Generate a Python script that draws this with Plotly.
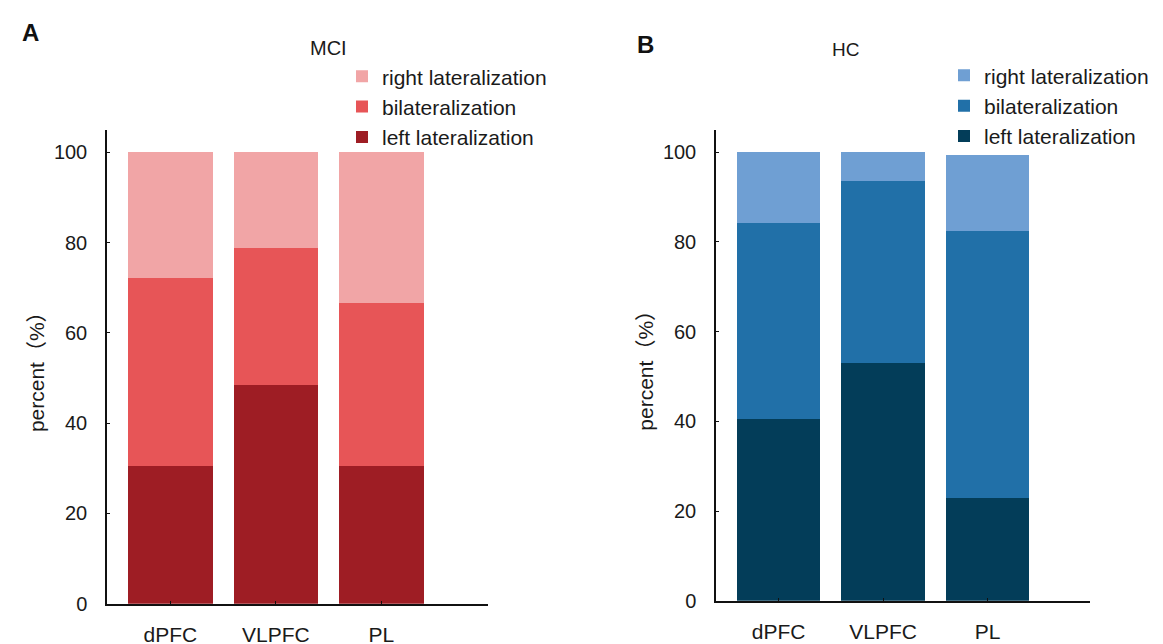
import plotly.graph_objects as go

regions = ["dPFC", "VLPFC", "PL"]
series_names = ["left lateralization", "bilateralization", "right lateralization"]

# MCI (percent of each category)
mci_left = [30.5, 48.4, 30.5]
mci_bilateral = [41.6, 30.5, 36.2]
mci_right = [27.9, 21.1, 33.3]

# HC
hc_left = [40.5, 53.1, 23.0]
hc_bilateral = [43.7, 40.5, 59.4]
hc_right = [15.8, 6.4, 17.1]

mci_colors = ["#9E1D24", "#E75557", "#F1A5A6"]
hc_colors = ["#033D59", "#2170A8", "#6F9FD3"]

y_ticks = [0, 20, 40, 60, 80, 100]

FONT = "Liberation Sans, Arial, Noto Sans CJK SC, sans-serif"
W, H = 1163, 644

fig = go.Figure()

for name, vals, col in zip(series_names, [mci_left, mci_bilateral, mci_right], mci_colors):
    fig.add_trace(go.Bar(x=regions, y=vals, name=name, marker=dict(color=col, line=dict(width=0)),
                         xaxis="x", yaxis="y", legend="legend"))
for name, vals, col in zip(series_names, [hc_left, hc_bilateral, hc_right], hc_colors):
    fig.add_trace(go.Bar(x=regions, y=vals, name=name, marker=dict(color=col, line=dict(width=0)),
                         xaxis="x2", yaxis="y2", legend="legend2"))

def px_x(p):
    return p / W

def px_y(p):
    return 1 - p / H

axis_common = dict(
    showline=True, linecolor="#111", linewidth=1.5, showgrid=False, zeroline=False,
    ticks="inside", ticklen=3, tickcolor="#111", tickwidth=1.2,
)
yfont = dict(family=FONT, size=20, color="#1a1a1a")
xfont = dict(family=FONT, size=21, color="#1a1a1a")

legend_common = dict(
    xanchor="left", yanchor="top", traceorder="reversed",
    font=dict(family=FONT, size=21, color="#1a1a1a"),
    itemwidth=30, bgcolor="rgba(0,0,0,0)", tracegroupgap=0,
)

fig.update_layout(
    width=W, height=H,
    margin=dict(l=0, r=0, t=0, b=0),
    paper_bgcolor="white", plot_bgcolor="white",
    barmode="stack", bargap=0.2,
    font=dict(family=FONT, color="#1a1a1a"),
    xaxis=dict(domain=[px_x(99), px_x(480)], anchor="y", range=[-0.60, 3.01],
               ticklabelstandoff=11, tickfont=xfont, **axis_common),
    yaxis=dict(domain=[px_y(606), px_y(124)], anchor="x", range=[0, 105],
               tickvals=y_ticks, ticklabelstandoff=14, tickfont=yfont,
               title=dict(text="percent（%）", font=dict(family=FONT, size=21), standoff=4),
               **axis_common),
    xaxis2=dict(domain=[px_x(708), px_x(1082)], anchor="y2", range=[-0.60, 2.98],
                ticklabelstandoff=11, tickfont=xfont, **axis_common),
    yaxis2=dict(domain=[px_y(603), px_y(124)], anchor="x2", range=[0, 105],
                tickvals=y_ticks, ticklabelstandoff=14, tickfont=yfont,
                title=dict(text="percent（%）", font=dict(family=FONT, size=21), standoff=4),
                **axis_common),
    legend=dict(x=px_x(334), y=px_y(49), **legend_common),
    legend2=dict(x=px_x(936), y=px_y(48), **legend_common),
    showlegend=True,
    annotations=[
        dict(text="<b>A</b>", x=px_x(12), y=px_y(25), xref="paper", yref="paper",
             xanchor="left", yanchor="middle", showarrow=False, font=dict(family=FONT, size=24, color="#111")),
        dict(text="<b>B</b>", x=px_x(627), y=px_y(37), xref="paper", yref="paper",
             xanchor="left", yanchor="middle", showarrow=False, font=dict(family=FONT, size=24, color="#111")),
        dict(text="MCI", x=px_x(320), y=px_y(41), xref="paper", yref="paper",
             xanchor="center", yanchor="middle", showarrow=False, font=dict(family=FONT, size=20, color="#1a1a1a")),
        dict(text="HC", x=px_x(837), y=px_y(42), xref="paper", yref="paper",
             xanchor="center", yanchor="middle", showarrow=False, font=dict(family=FONT, size=19, color="#1a1a1a")),
    ],
)

fig.write_html("out.html")
